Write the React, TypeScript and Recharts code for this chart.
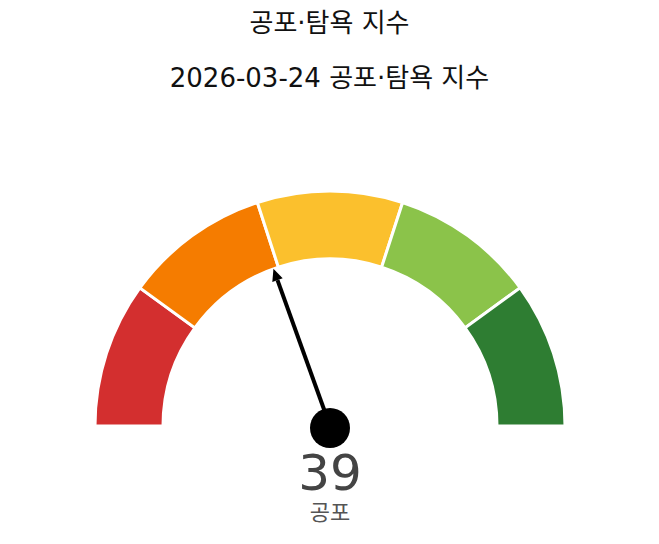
import React from "react";
import { PieChart, Pie, Cell } from "recharts";

const title = "공포·탐욕 지수";
const subtitle = "2026-03-24 공포·탐욕 지수";
const zoneNames = ["극단적 공포", "공포", "중립", "탐욕", "극단적 탐욕"];
const zoneSizes = [20, 20, 20, 20, 20];
const zoneColors = ["#d32f2f", "#f57c00", "#fbc02d", "#8bc34a", "#2e7d32"];
const indexValue = 39;
const indexLabel = "공포";

const zones = zoneNames.map((name, i) => ({ name, value: zoneSizes[i] }));
const needleData = [
  { name: "value", value: indexValue },
  { name: "rest", value: 100 - indexValue },
];

const FONT = "'DejaVu Sans', 'Noto Sans CJK KR', sans-serif";
const CX = 317;
const CY = 413;

function renderNeedle(props: any) {
  if (props.index !== 0) return null;
  const { cx, cy, midAngle } = props;
  const start = 180;
  const end = 2 * midAngle - start;
  const rad = (end * Math.PI) / 180;
  const len = 167;
  const tipX = cx + len * Math.cos(rad);
  const tipY = cy - len * Math.sin(rad);
  const ah = 12;
  const aw = 5.5;
  const bx = cx + (len - ah) * Math.cos(rad);
  const by = cy - (len - ah) * Math.sin(rad);
  const px = -Math.sin(rad);
  const py = -Math.cos(rad);
  return (
    <g>
      <line x1={cx} y1={cy} x2={bx} y2={by} stroke="#000" strokeWidth={4} />
      <polygon
        points={`${tipX},${tipY} ${bx + aw * px},${by + aw * py} ${bx - aw * px},${by - aw * py}`}
        fill="#000"
      />
      <circle cx={cx} cy={cy + 2} r={20} fill="#000" />
      <text x={cx} y={cy + 47} textAnchor="middle" dominantBaseline="central" fontSize={50} fill="#444" fontFamily={FONT}>
        {indexValue}
      </text>
      <text x={cx} y={cy + 86} textAnchor="middle" dominantBaseline="central" fontSize={22} fill="#555" fontFamily={FONT}>
        {indexLabel}
      </text>
    </g>
  );
}

export default function App() {
  return (
    <div style={{ position: "relative", width: 643, height: 528, fontFamily: FONT }}>
      <div style={{ position: "absolute", top: 0, left: 0, width: 643, textAlign: "center", fontSize: 26, lineHeight: "30px", color: "#111" }}>
        {title}
      </div>
      <div style={{ position: "absolute", top: 54, left: 0, width: 643, textAlign: "center", fontSize: 26, lineHeight: "32px", color: "#111" }}>
        {subtitle}
      </div>
      <div style={{ position: "absolute", top: 0, left: 0 }}>
        <PieChart width={643} height={528}>
          <Pie
            data={zones}
            dataKey="value"
            cx={CX}
            cy={CY}
            startAngle={180}
            endAngle={0}
            innerRadius={167}
            outerRadius={235}
            stroke="#fff"
            strokeWidth={3}
            isAnimationActive={false}
          >
            {zones.map((z, i) => (
              <Cell key={z.name} fill={zoneColors[i]} />
            ))}
          </Pie>
          <Pie
            data={needleData}
            dataKey="value"
            cx={CX}
            cy={CY}
            startAngle={180}
            endAngle={0}
            innerRadius={0}
            outerRadius={1}
            fill="none"
            stroke="none"
            label={renderNeedle}
            labelLine={false}
            isAnimationActive={false}
          />
        </PieChart>
      </div>
    </div>
  );
}
